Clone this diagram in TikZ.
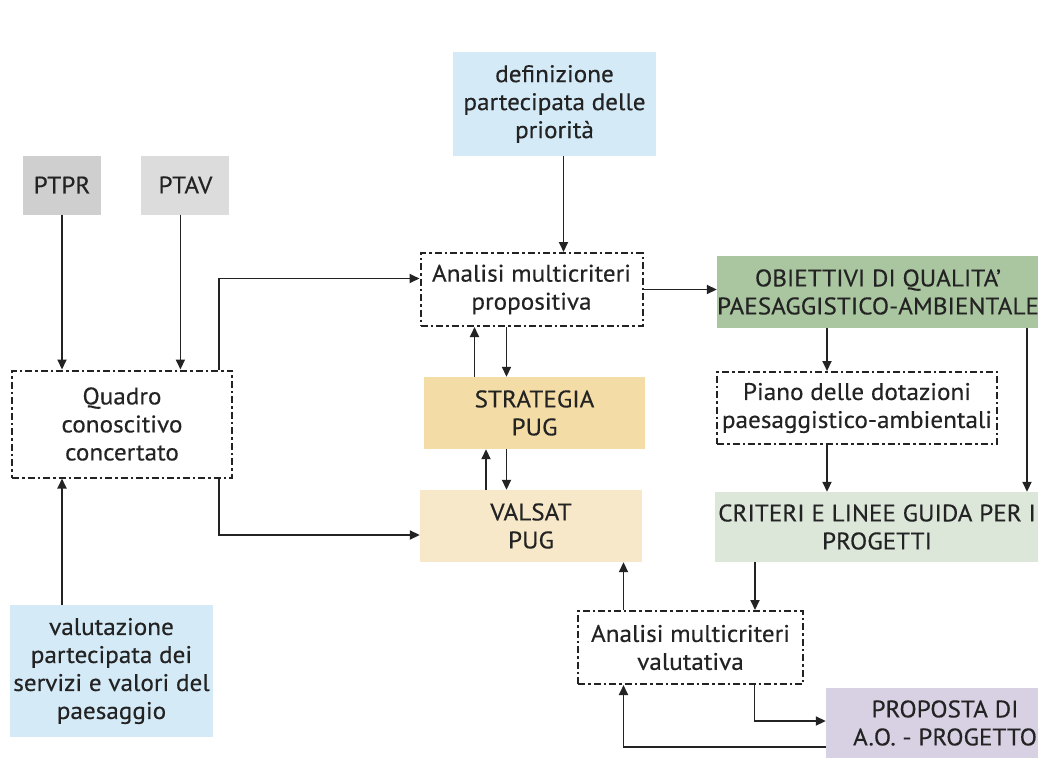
\documentclass[tikz,border=0pt]{standalone}
\usepackage{fontspec}
\setmainfont{PT Sans}[FakeBold=0.35, FakeStretch=1.05]
\usepackage{xcolor}
\usetikzlibrary{arrows.meta,positioning}

\definecolor{txtgray}{HTML}{232323}
\definecolor{ptprgray}{HTML}{CFCFCF}
\definecolor{ptavgray}{HTML}{DCDCDC}
\definecolor{partblue}{HTML}{D4EAF7}
\definecolor{obgreen}{HTML}{AAC6A0}
\definecolor{critgreen}{HTML}{DCE7DA}
\definecolor{stratyel}{HTML}{F4DCA6}
\definecolor{valsatyel}{HTML}{F6E8C8}
\definecolor{proplilac}{HTML}{D8D0E3}

\begin{document}
\begin{tikzpicture}[
  x=1pt, y=-1pt,
  every node/.style={font=\fontsize{24}{28}\selectfont, text=txtgray},
  box/.style={
    align=center, inner xsep=0pt, inner ysep=2pt, minimum width=#1
  },
  box/.default=220pt,
  analisi/.style={
    box=#1, draw=txtgray, line width=2pt,
    dash pattern=on 7pt off 3pt on 2.5pt off 3pt
  },
  analisi/.default=222pt,
  arr/.style={-{Triangle[length=10pt,width=9pt]}, line width=1.8pt, draw=txtgray}
]
\useasboundingbox (0,0) rectangle (1038,768);

% Plans
\node[box=78pt, fill=ptprgray, minimum height=59pt] (ptpr) at (62,185) {PTPR};
\node[box=88pt, fill=ptavgray, minimum height=59pt, right=40pt of ptpr] (ptav) {PTAV};

% Left column
\node[analisi=220pt, minimum height=107pt] (quadro) at (122,424) {Quadro\\conoscitivo\\concertato};
\node[box=203pt, fill=partblue, minimum height=132pt] (valut) at (111.5,671) {%
valutazione\\
partecipata dei\\
servizi e valori del\\
paesaggio};

% Middle column
\node[box=203pt, fill=partblue, minimum height=104pt] (defin) at (554.5,104) {%
definizione\\
partecipata delle\\
priorità};
\node[analisi, minimum height=73pt] (amprop) at (531.5,289.5) {Analisi multicriteri\\propositiva};
\node[box=221pt, fill=stratyel, minimum height=72pt] (strat) at (534.5,413) {STRATEGIA\\PUG};
\node[box=222pt, fill=valsatyel, minimum height=72pt] (valsat) at (531,526) {VALSAT\\PUG};

% Right column
\node[box=322pt, fill=obgreen, minimum height=72pt] (obiet) at (878,292) {%
OBIETTIVI DI QUALITA'\\
PAESAGGISTICO-AMBIENTALE};
\node[analisi=280pt, minimum height=72pt] (piano) at (857,408) {%
Piano delle dotazioni\\
paesaggistico-ambientali};
\node[box=324pt, fill=critgreen, minimum height=70pt] (criteri) at (877,527) {%
CRITERI E LINEE GUIDA PER I\\
PROGETTI};
\node[analisi=225pt, minimum height=73pt] (amval) at (690.5,647.5) {Analisi multicriteri\\valutativa};
\node[box=238pt, fill=proplilac, minimum height=70pt] (proposta) at (945,723) {%
PROPOSTA DI\\
A.O. - PROGETTO};

% Into the quadro
\draw[arr] (ptpr.south) -- (ptpr.south |- quadro.north);
\draw[arr] ([xshift=-5pt]ptav.south) -- ([xshift=-5pt]ptav.south |- quadro.north);
\draw[arr] (62,0 |- valut.north) -- (62,0 |- quadro.south);

% Quadro out to the two analyses
\draw[arr] ([xshift=-14pt]quadro.north east) |- ([yshift=11pt]amprop.west);
\draw[arr] ([xshift=-14pt]quadro.south east) |- ([yshift=-9pt]valsat.west);

% Middle stack
\draw[arr] ([xshift=9pt]defin.south) -- ([xshift=9pt]defin.south |- amprop.north);
\draw[arr] ([xshift=-60pt]strat.north) -- ([xshift=-60pt]strat.north |- amprop.south);
\draw[arr] ([xshift=-25pt]amprop.south) -- ([xshift=-25pt]amprop.south |- strat.north);
\draw[arr] ([xshift=-45pt]valsat.north) -- ([xshift=-45pt]valsat.north |- strat.south);
\draw[arr] ([xshift=-28pt]strat.south) -- ([xshift=-28pt]strat.south |- valsat.north);

% Objectives and guidelines
\draw[arr] (amprop.east) -- (amprop.east -| obiet.west);
\draw[arr] ([xshift=-51pt]obiet.south) -- ([xshift=-51pt]obiet.south |- piano.north);
\draw[arr] ([xshift=-51pt]obiet.south |- piano.south) -- ([xshift=-51pt]obiet.south |- criteri.north);
\draw[arr] ([xshift=149pt]obiet.south) -- ([xshift=149pt]obiet.south |- criteri.north);

% Evaluation loop
\draw[arr] ([xshift=-122pt]criteri.south) -- ([xshift=-122pt]criteri.south |- amval.north);
\draw[arr] ([xshift=-67pt]amval.north) -- ([xshift=-67pt]amval.north |- valsat.south);
\draw[arr] ([xshift=64pt]amval.south) |- ([yshift=2pt]proposta.west);
\draw[arr] ([yshift=-24pt]proposta.west) -| ([xshift=-67pt]amval.south);

\end{tikzpicture}
\end{document}
